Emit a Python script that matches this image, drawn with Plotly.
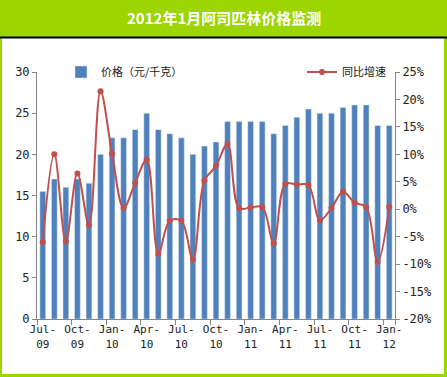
import plotly.graph_objects as go

months = ["Jul-<br>09", "Aug-<br>09", "Sep-<br>09", "Oct-<br>09", "Nov-<br>09", "Dec-<br>09",
          "Jan-<br>10", "Feb-<br>10", "Mar-<br>10", "Apr-<br>10", "May-<br>10", "Jun-<br>10",
          "Jul-<br>10", "Aug-<br>10", "Sep-<br>10", "Oct-<br>10", "Nov-<br>10", "Dec-<br>10",
          "Jan-<br>11", "Feb-<br>11", "Mar-<br>11", "Apr-<br>11", "May-<br>11", "Jun-<br>11",
          "Jul-<br>11", "Aug-<br>11", "Sep-<br>11", "Oct-<br>11", "Nov-<br>11", "Dec-<br>11",
          "Jan-<br>12"]
price = [15.5, 17, 16, 17, 16.5, 20, 22, 22, 23, 25, 23, 22.5, 22, 20, 21, 21.5,
         24, 24, 24, 24, 22.5, 23.5, 24.5, 25.5, 25, 25, 25.7, 26, 26, 23.5, 23.5]
growth = [-6.0, 10.0, -5.9, 6.5, -2.9, 21.5, 10.1, 0.2, 4.8, 9.0, -8.1, -2.1, -2.1,
          -9.2, 5.2, 7.9, 11.9, 0.2, 0.3, 0.4, -6.2, 4.6, 4.5, 4.4, -2.0, 0.2, 3.2,
          1.2, 0.4, -9.6, 0.4]
growth_frac = [g / 100 for g in growth]
tick_labels = months[::3]
pct_ticks = [-20, -15, -10, -5, 0, 5, 10, 15, 20, 25]
pct_vals = [p / 100 for p in pct_ticks]
pct_text = [f"{p}%" for p in pct_ticks]

W, H = 447, 377
L, R, T, B = 37, 395, 72, 319
pw, ph = R - L, B - T

def px(x):
    return (x - L) / pw

def py(y):
    return (B - y) / ph

green = "#9DD500"
fig = go.Figure()
fig.add_trace(go.Bar(x=months, y=price, name="价格（元/千克）", marker_color="#4F81BD",
                     legend="legend"))
fig.add_trace(go.Scatter(x=months, y=growth_frac, name="同比增速", yaxis="y2",
                         mode="lines+markers", line=dict(color="#C0504D", width=2, shape="spline", smoothing=1),
                         marker=dict(color="#C0504D", size=6), legend="legend2"))

tickfont = dict(family="DejaVu Sans Mono", size=12, color="#222")
fig.update_layout(
    width=W, height=H,
    margin=dict(l=L, r=W - R, t=T, b=H - B, autoexpand=False),
    paper_bgcolor=green, plot_bgcolor="rgba(0,0,0,0)",
    bargap=0.5,
    font=dict(family="Noto Sans CJK SC", size=12, color="#222"),
    xaxis=dict(type="category", tickmode="array", tickvals=tick_labels, ticktext=tick_labels,
               tickson="boundaries", ticks="outside", ticklen=5, tickcolor="#868686",
               showline=True, linecolor="#868686", linewidth=1, showgrid=False, automargin=False,
               tickfont=dict(family="DejaVu Sans Mono", size=11, color="#222"), tickangle=0,
               range=[-0.5, 30.5]),
    yaxis=dict(range=[0, 30], dtick=5, showgrid=False, zeroline=False, showline=True,
               linecolor="#868686", ticks="outside", ticklen=4, tickcolor="#868686",
               tickfont=tickfont, automargin=False),
    yaxis2=dict(range=[-0.2, 0.25], tickmode="array", tickvals=pct_vals, ticktext=pct_text,
                overlaying="y", side="right", automargin=False,
                showgrid=False, zeroline=False, showline=True, linecolor="#868686",
                ticks="outside", ticklen=4, tickcolor="#868686", tickfont=tickfont),
    legend=dict(x=px(61), y=py(72), xanchor="left", yanchor="middle", bgcolor="rgba(0,0,0,0)",
                font=dict(size=11)),
    legend2=dict(x=px(302), y=py(72), xanchor="left", yanchor="middle", bgcolor="rgba(0,0,0,0)",
                 font=dict(size=11)),
    showlegend=True,
    shapes=[
        dict(type="rect", xref="paper", yref="paper", x0=px(2), x1=px(444), y0=py(374), y1=py(38),
             fillcolor="white", line=dict(width=0), layer="below"),
        dict(type="line", xref="paper", yref="paper", x0=px(0), x1=px(447), y0=py(37.5), y1=py(37.5),
             line=dict(color="black", width=2)),
    ],
    annotations=[
        dict(text="<b>2012年1月阿司匹林价格监测</b>", xref="paper", yref="paper", x=px(223.5), y=py(18),
             xanchor="center", yanchor="middle", showarrow=False,
             font=dict(family="Noto Sans CJK SC", size=15, color="white")),
    ],
)
fig.write_html("out.html", config={"displayModeBar": False},
               post_script="document.body.style.margin='0';")
